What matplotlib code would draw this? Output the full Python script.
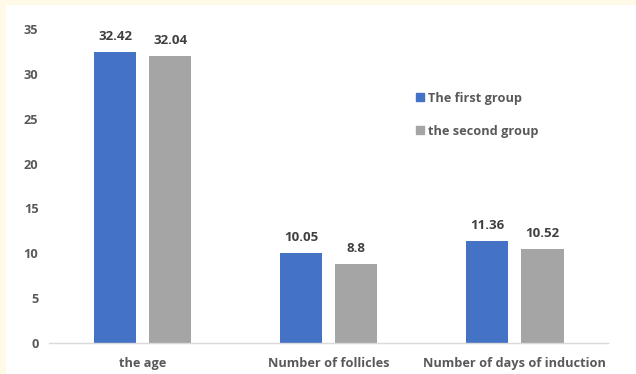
import numpy as np
import matplotlib.pyplot as plt
from matplotlib.patches import Rectangle
from matplotlib.lines import Line2D

# Group means for each measured variable
categories = ["the age", "Number of follicles", "Number of days of induction"]
first_group = [32.42, 10.05, 11.36]
second_group = [32.04, 8.8, 10.52]
series_names = ["The first group", "the second group"]

blue = "#4472C4"
grey = "#A5A5A5"
text_col = "#595959"

plt.rcParams["font.family"] = ["Open Sans", "DejaVu Sans"]

fig = plt.figure(figsize=(6.36, 3.74), dpi=100, facecolor="#FFF9E8")
# white chart panel inside the cream frame
fig.patches.append(Rectangle((6 / 636, 0), 1, 1 - 5 / 374, transform=fig.transFigure,
                             facecolor="white", edgecolor="none", zorder=-10))

ax = fig.add_axes([49.5 / 636, 1 - 343 / 374, (608 - 49.5) / 636, (343 - 29) / 374])
ax.set_facecolor("none")

x = np.arange(len(categories))
w = 0.226
off = 0.148
b1 = ax.bar(x - off, first_group, w, color=blue, zorder=2)
b2 = ax.bar(x + off, second_group, w, color=grey, zorder=2)

for bars, vals in ((b1, first_group), (b2, second_group)):
    for r, v in zip(bars, vals):
        ax.text(r.get_x() + r.get_width() / 2, v + 1.0, f"{v:g}", ha="center", va="bottom",
                fontsize=9.5, fontweight="bold", color="#404040")

ax.set_xlim(-0.5, 2.5)
ax.set_ylim(0, 35)
ax.set_yticks(range(0, 36, 5))
ax.set_xticks(x)
ax.set_xticklabels(categories)
ax.tick_params(axis="both", length=0, labelsize=9.2, labelcolor=text_col)
ax.tick_params(axis="x", pad=10)
ax.tick_params(axis="y", pad=8)
for lab in ax.get_xticklabels() + ax.get_yticklabels():
    lab.set_fontweight("bold")

for s in ("top", "right", "left"):
    ax.spines[s].set_visible(False)
ax.spines["bottom"].set_color("#D9D9D9")
ax.spines["bottom"].set_linewidth(1)

handles = [Line2D([], [], marker="s", ls="none", color=blue, markersize=6),
           Line2D([], [], marker="s", ls="none", color=grey, markersize=6)]
leg = ax.legend(handles, series_names, loc="upper left", bbox_to_anchor=(405 / 636, 1 - 80 / 374),
                bbox_transform=fig.transFigure, frameon=False, fontsize=9.2,
                handlelength=0.6, handletextpad=0.3, labelspacing=1.6)
for t in leg.get_texts():
    t.set_color(text_col)
    t.set_fontweight("bold")

fig.savefig("out.png", dpi=100, facecolor=fig.get_facecolor())
